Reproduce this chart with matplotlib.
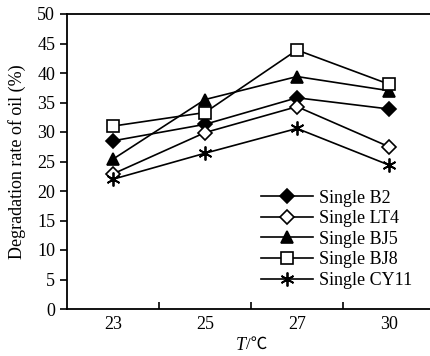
import matplotlib.pyplot as plt
from matplotlib.ticker import FixedLocator

plt.rcParams['font.family'] = ['Liberation Serif', 'DejaVu Serif']

temps = ['23', '25', '27', '30']
b2 = [28.5, 31.3, 35.8, 33.9]
lt4 = [22.9, 29.9, 34.3, 27.5]
bj5 = [25.4, 35.5, 39.4, 37.0]
bj8 = [31.0, 33.3, 43.9, 38.1]
cy11 = [22.0, 26.4, 30.6, 24.4]

series = [
    ('Single B2', b2, 'D', 'black', 7),
    ('Single LT4', lt4, 'D', 'white', 7),
    ('Single BJ5', bj5, '^', 'black', 9),
    ('Single BJ8', bj8, 's', 'white', 9),
    ('Single CY11', cy11, 'x', 'black', 10),
]

fig = plt.figure(figsize=(4.30, 3.56), dpi=100)
ax = fig.add_axes([67 / 430, 1 - 309 / 356, 368 / 430, 295 / 356])

x = range(len(temps))
for name, vals, mk, fc, ms in series:
    if mk == 'x':
        ax.plot(x, vals, color='black', lw=1.2, marker=(6, 2, 0), ms=ms,
                mew=1.3, label=name)
    else:
        ax.plot(x, vals, color='black', lw=1.2, marker=mk, ms=ms,
                mfc=fc, mec='black', mew=1.2, label=name)

ax.set_xlim(-0.5, 3.5)
ax.set_ylim(0, 50)
ax.set_xticks(list(x))
ax.set_xticklabels(temps)
ax.xaxis.set_minor_locator(FixedLocator([0.5, 1.5, 2.5]))
ax.tick_params(axis='x', which='major', length=0, labelsize=13, pad=5)
ax.tick_params(axis='x', which='minor', direction='in', length=5, width=1.2)
ax.set_yticks(range(0, 51, 5))
ax.tick_params(axis='y', direction='out', length=5, width=1.2, labelsize=13)
ax.spines['right'].set_visible(False)
for s in ['left', 'bottom', 'top']:
    ax.spines[s].set_linewidth(1.3)

ax.set_ylabel('Degradation rate of oil (%)', fontsize=13, labelpad=8)

# x label: italic T followed by /℃
fig.text(246 / 430, 1 - 345 / 356, 'T', fontsize=13, style='italic',
         ha='right', va='center')
fig.text(246 / 430, 1 - 345 / 356, '/℃', fontsize=12, ha='left',
         va='center', family=['Liberation Serif', 'Noto Sans CJK SC'])

ax.legend(loc='upper left', bbox_to_anchor=(0.527, 0.405), frameon=False,
          fontsize=13, handlelength=2.9, handletextpad=0.3,
          labelspacing=0.2, borderaxespad=0, borderpad=0)

fig.savefig('out.png', dpi=100)
